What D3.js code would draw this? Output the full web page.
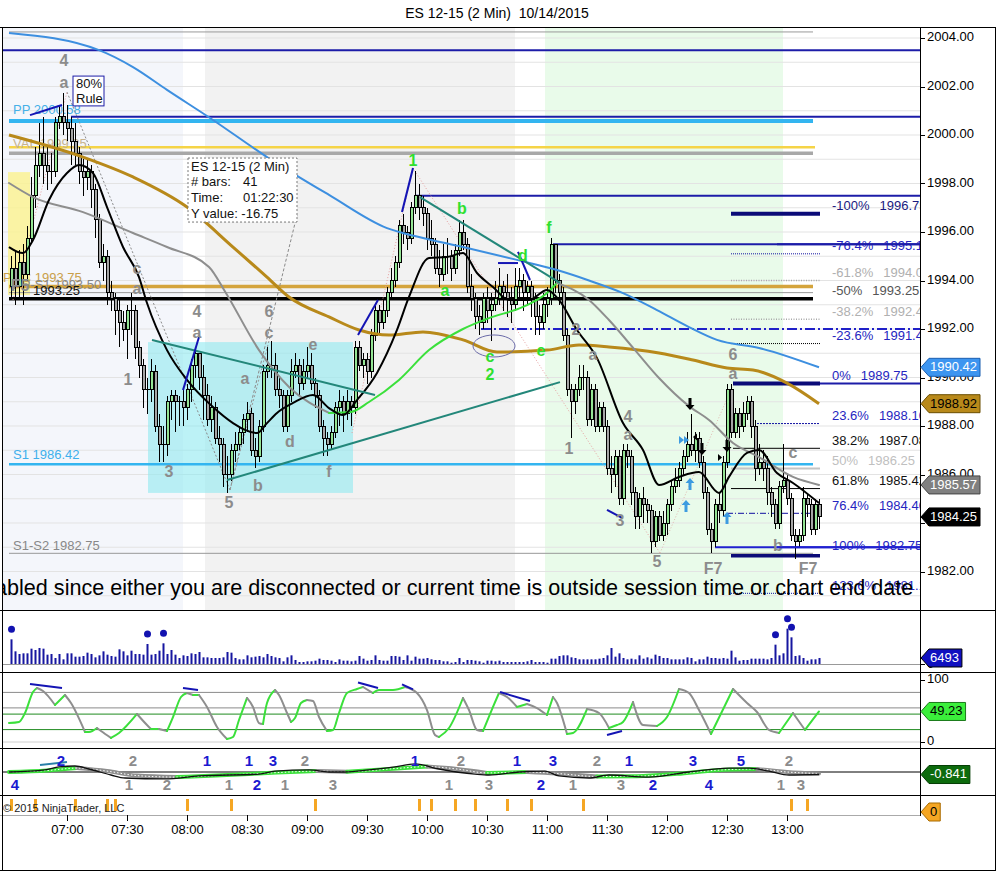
<!DOCTYPE html>
<html><head><meta charset="utf-8">
<script src="https://cdn.jsdelivr.net/npm/d3@7"></script>
<style>body{margin:0;background:#fff}svg{display:block;font-family:Arial,"Liberation Sans",sans-serif}.pre{white-space:pre}</style>
</head><body><svg id="c" width="996" height="871"></svg>
<script>
// ---------------- DATA ----------------
const title = "ES 12-15 (2 Min)  10/14/2015";
const barStart = "06:32";          // first 2-minute bar
const firstOpen = 1993.75;
const closes = [
1994.5,1993.75,1994.75,1994.25,1995.75,1997.5,1998.75,1999.25,1998.75,1998.5,
1998.5,2000.5,2000.75,2000.5,2000.25,1999.75,1999.25,1998.5,1998.25,1998.5,
1997.75,1996.5,1994.75,1995.0,1993.5,1993.25,1992.75,1992.25,1992.0,1992.75,
1992.75,1991.25,1990.5,1989.5,1989.5,1990.25,1988.0,1987.25,1987.25,1989.0,
1989.25,1989.0,1989.0,1988.75,1989.5,1990.5,1991.0,1990.0,1989.25,1988.25,
1988.75,1987.5,1987.25,1986.0,1986.0,1987.0,1987.25,1987.75,1988.25,1988.5,
1987.0,1986.75,1988.0,1990.25,1990.5,1990.5,1989.5,1989.25,1988.0,1989.25,
1990.25,1990.5,1989.75,1990.25,1990.5,1989.75,1989.25,1988.0,1987.5,1987.25,
1987.75,1988.75,1989.0,1988.5,1989.0,1988.75,1991.25,1990.5,1990.75,1990.25,
1991.75,1992.75,1992.25,1992.75,1993.5,1994.0,1994.75,1996.25,1996.0,1995.75,
1997.0,1997.5,1997.0,1996.75,1995.75,1995.5,1994.5,1994.25,1995.0,1995.0,
1994.5,1995.25,1996.0,1995.5,1993.75,1993.25,1992.5,1992.25,1993.25,1992.75,
1993.0,1993.25,1993.75,1993.5,1993.25,1993.0,1993.75,1994.0,1993.5,1993.75,
1993.25,1992.5,1992.25,1993.0,1993.25,1995.5,1994.0,1993.5,1991.75,1989.5,
1989.0,1989.5,1990.0,1990.0,1988.25,1989.5,1988.0,1988.75,1988.0,1986.25,
1986.0,1986.75,1985.0,1987.0,1986.75,1985.25,1984.25,1985.0,1984.75,1984.5,
1983.25,1984.25,1983.5,1984.0,1984.75,1985.5,1985.75,1986.25,1986.75,1987.25,
1987.0,1987.5,1986.5,1985.25,1983.75,1983.25,1984.75,1984.5,1986.5,1989.5,
1987.75,1988.5,1988.0,1988.5,1989.0,1988.0,1986.25,1986.5,1986.25,1985.25,
1984.75,1984.0,1985.5,1985.75,1985.0,1983.5,1983.25,1983.5,1985.0,1984.75,
1983.75,1984.75,1984.25];
const highs = [
1995,1995.25,1995.25,1995.5,1996.25,1998.25,1999.5,2000.5,2000.75,1999.5,
1999.25,2000.75,2001.25,2001.75,2001.25,2000.75,2000.5,1999.5,1999,1999,
1998.75,1998,1996.75,1995.5,1995.25,1994,1993.5,1993.25,1992.75,1993,
1993.5,1993,1991.5,1990.75,1990,1990.75,1990.5,1988.5,1988,1989.25,
1989.5,1989.5,1989.25,1989.5,1989.75,1990.75,1991.25,1991,1990.5,1989.75,
1989.25,1989,1988,1987.5,1986.75,1987.25,1987.75,1988,1988.5,1989,
1988.75,1987.5,1988.25,1990.5,1991.25,1991.5,1991,1990,1989.5,1989.5,
1990.75,1991,1990.75,1990.75,1991.25,1991,1990,1989.5,1988.25,1987.75,
1988,1989,1989.5,1989.25,1989.5,1989.25,1991.5,1991.5,1991,1991,
1992,1993,1993,1993.25,1993.75,1994.5,1995,1996.5,1996.75,1996.25,
1997.25,1998.5,1998,1997.5,1997,1996.5,1995.75,1995.25,1995.5,1995.75,
1995.25,1995.5,1996.5,1996.5,1995.75,1994.25,1993.5,1993,1993.5,1993.75,
1993.5,1994,1994.5,1994,1994.25,1993.75,1994.5,1994.5,1994.25,1994,
1994,1993.5,1993,1993.5,1993.75,1995.75,1995.5,1994.25,1993.75,1992,
1989.75,1989.75,1990.5,1990.5,1990.25,1989.75,1989.75,1989,1989,1988.25,
1986.75,1987,1987,1987.25,1987.25,1987,1985.5,1985.25,1985.5,1985,
1984.75,1984.5,1984.5,1984.5,1985,1985.75,1986.25,1986.5,1987,1987.75,
1988.5,1987.75,1987.75,1986.75,1985.5,1984,1985,1985.25,1986.75,1989.75,
1989.75,1988.75,1988.75,1989,1989.25,1989.25,1988.25,1987.25,1987,1986.75,
1985.5,1985,1985.75,1987.25,1986,1985.25,1983.75,1983.75,1985.5,1985.25,
1985,1985,1985];
const lows = [
1993.25,1993,1993.25,1993,1994,1995.5,1997,1998.25,1998,1997.75,
1998,1998.25,2000.25,2000,1999.75,1998.75,1998.75,1998,1997.5,1997.75,
1997,1995.75,1994.5,1994,1993,1992.75,1991.75,1991.25,1991.5,1990.75,
1991.75,1990.75,1990,1988.75,1988.5,1989,1987.75,1986.5,1986.5,1986.75,
1988.25,1987.75,1988,1988,1988.25,1989,1990,1989.5,1988.25,1988,
1987.75,1987.25,1986.5,1985.5,1985.25,1985.75,1986.5,1987,1987.25,1987.75,
1986.75,1986.25,1986.5,1987.75,1990,1990,1989.25,1988.75,1987.75,1987.75,
1989,1990,1989.25,1989.5,1990,1989.5,1988.75,1987.75,1986.75,1986.75,
1987,1987.5,1988,1987.75,1988.25,1988,1988.5,1990.25,1990,1989.75,
1990,1991.5,1991.75,1992,1992.5,1993.25,1993.75,1994.5,1995.5,1995.25,
1995.5,1996.75,1996.5,1996.25,1995.25,1995,1994.25,1993.75,1994,1994.25,
1994,1994.25,1995,1995.25,1993.5,1992.75,1992,1991.75,1992,1992.25,
1991.5,1992.75,1993,1992.75,1992.5,1992.25,1992.75,1993.25,1992.75,1993,
1992.5,1991.75,1991.75,1992,1992.5,1993,1993.5,1993,1991.5,1989.25,
1987.5,1988.5,1989.25,1989.5,1988,1988,1987.75,1987.75,1987.75,1986,
1985.25,1985.5,1984.75,1984.75,1986.25,1984.75,1983.75,1983.75,1984,1984,
1982.75,1983,1983.25,1983.25,1983.5,1984.5,1985.25,1985.5,1986,1986.5,
1986.75,1986.5,1986.25,1985,1983.5,1982.75,1983,1984,1984.25,1986.25,
1987.5,1987.5,1987.5,1987.75,1988.25,1987.5,1985.75,1986,1985.75,1984.75,
1984.25,1983.75,1983.75,1985.25,1984.75,1983.25,1982.5,1983,1983.25,1984.25,
1983.5,1983.5,1983.75];
const volumes = [
26640,13680,10800,11520,11520,16560,15120,17280,16560,10080,
10800,6480,10800,5040,11520,11520,7920,7920,8640,12240,
10800,7200,9360,13680,10080,8640,7920,15840,13680,9360,
14400,10800,10800,10080,21600,10080,10800,14400,22320,10800,
15120,10080,6480,9360,8640,11520,10800,12960,7200,7200,
6480,6480,6480,7200,12960,12240,6480,5040,5040,9360,
7200,7920,8640,7200,10800,8640,7200,6480,2880,7200,
9360,4320,2160,2160,2880,2880,3600,5760,4320,4320,
3600,2160,5040,3600,3600,2880,3600,8640,5760,3600,
4320,9360,4320,3600,3600,8640,8640,7920,4320,9360,
3600,7920,5760,5760,6480,5040,4320,4320,2880,2880,
1440,2160,6480,2160,4320,4320,3600,2880,1440,3600,
3600,2880,3600,2160,2160,2160,2160,2160,2160,2880,
4320,2160,2160,2160,1440,5760,5760,8640,9360,9360,
7200,6480,5040,5040,5040,5040,5040,5760,6480,9360,
17280,7920,11520,6480,5040,5760,5040,9360,5760,7200,
5760,10080,8640,6480,6480,5040,5040,5040,5040,7200,
6480,2880,5040,5040,7920,6480,6480,5760,6480,5760,
14400,7200,3600,4320,4320,5760,5760,5760,5760,5040,
6480,20880,9360,11520,38160,28800,8640,9360,6480,3600,
5040,5040,6493];
const volumeDotBars = [0,34,38,191,194,195];

// moving averages (time, price)
const maBlue = [["06:31",2004.21],["07:16",2003.5],["07:33",2002.8],["07:50",2001.86],["08:13",2000.62],["08:40",1999.09],["09:11",1997.53],["09:40",1996.16],["09:56",1995.79],["10:18",1995.38],["10:45",1994.85],["11:05",1994.43],["11:21",1994.0],["11:38",1993.48],["11:55",1992.78],["12:11",1992.08],["12:25",1991.55],["12:46",1991.22],["13:16",1990.42]];
const maBrown = [["06:31",2000.0],["07:08",1999.09],["07:33",1998.27],["08:00",1997.03],["08:23",1995.38],["08:40",1994.14],["08:51",1993.32],["09:11",1992.5],["09:26",1991.96],["09:41",1991.75],["09:58",1991.88],["10:18",1991.55],["10:35",1991.05],["11:00",1991.13],["11:16",1991.34],["11:31",1991.26],["11:56",1991.01],["12:13",1990.72],["12:30",1990.39],["12:43",1990.31],["13:00",1989.77],["13:16",1988.92]];
const maGray = [["06:31",1998.02],["06:43",1997.44],["07:08",1996.82],["07:33",1995.96],["07:50",1995.38],["08:11",1994.56],["08:19",1993.55],["08:36",1991.13],["08:51",1989.61],["09:11",1988.54],["09:22",1988.58],["09:31",1988.99],["09:46",1989.9],["10:01",1991.13],["10:18",1992.0],["10:31",1992.45],["10:48",1992.91],["11:00",1993.48],["11:05",1993.9],["11:21",1993.2],["11:31",1992.37],["11:44",1991.13],["11:56",1989.98],["12:11",1988.82],["12:21",1988.25],["12:33",1987.3],["12:46",1986.72],["13:03",1985.9],["13:16",1985.57]];
const maBlack = [["06:31",1995.38],["06:38",1995.13],["06:43",1995.67],["06:51",1997.32],["07:00",1998.43],["07:06",1998.76],["07:13",1998.43],["07:20",1997.03],["07:28",1995.38],["07:36",1994.14],["07:40",1993.07],["07:50",1991.13],["08:00",1989.9],["08:13",1988.78],["08:23",1988.12],["08:35",1987.71],["08:40",1988.12],["08:45",1988.54],["08:53",1988.95],["09:03",1989.28],["09:11",1988.74],["09:18",1988.45],["09:25",1989.07],["09:35",1990.19],["09:45",1991.96],["09:51",1993.32],["10:01",1994.93],["10:10",1994.97],["10:18",1995.13],["10:25",1994.31],["10:33",1993.73],["10:41",1993.2],["10:51",1993.2],["11:00",1993.61],["11:06",1993.2],["11:15",1991.96],["11:25",1990.8],["11:38",1988.12],["11:48",1987.01],["11:56",1985.57],["12:06",1985.9],["12:16",1986.1],["12:26",1985.24],["12:31",1985.9],["12:40",1986.89],["12:46",1987.01],["12:55",1986.06],["13:03",1985.65],["13:16",1984.82]];

// oscillator (0..100)
const osc = [["06:31",30.6],["06:36",32.3],["06:39",46.8],["06:43",80.6],["06:45",87.1],["06:48",82.3],["06:54",59.7],["06:55",62.9],["06:59",75.8],["07:02",62.9],["07:09",16.1],["07:11",16.1],["07:15",22.6],["07:17",17.7],["07:22",6.5],["07:26",14.5],["07:35",45.2],["07:40",27.4],["07:42",21.0],["07:46",21.0],["07:50",17.7],["07:53",40.3],["07:57",72.6],["08:00",79.0],["08:03",75.8],["08:06",75.8],["08:10",56.5],["08:15",24.2],["08:20",4.8],["08:23",8.1],["08:26",35.5],["08:30",71.0],["08:33",56.5],["08:36",30.6],["08:38",29.0],["08:40",62.9],["08:44",83.9],["08:46",75.8],["08:50",46.8],["08:52",32.3],["08:54",38.7],["08:57",62.9],["09:00",67.7],["09:03",66.1],["09:06",40.3],["09:10",17.7],["09:13",19.4],["09:16",46.8],["09:20",79.0],["09:25",85.5],["09:28",88.7],["09:33",79.0],["09:36",83.9],["09:43",83.9],["09:49",88.7],["09:55",79.0],["10:00",51.6],["10:04",11.3],["10:06",8.1],["10:11",22.6],["10:18",71.0],["10:21",51.6],["10:25",19.4],["10:28",17.7],["10:33",56.5],["10:36",79.0],["10:40",72.6],["10:45",56.5],["10:50",61.3],["10:55",54.8],["11:00",43.5],["11:03",72.6],["11:05",62.9],["11:10",12.9],["11:13",14.5],["11:20",53.2],["11:26",46.8],["11:31",22.6],["11:35",27.4],["11:38",32.3],["11:43",64.5],["11:48",27.4],["11:55",25.8],["12:00",40.3],["12:06",85.5],["12:11",79.0],["12:16",51.6],["12:22",12.9],["12:33",85.5],["12:40",62.9],["12:45",48.4],["12:51",19.4],["12:56",14.5],["13:03",46.8],["13:09",19.4],["13:16",49.23]];
const oscLevels = [80,55,45,20,0];

// MACD-style panel
const macd = [["06:31",0],["06:49",0.7],["06:56",1.7],["07:04",2.0],["07:11",1.0],["07:22",-1.0],["07:29",-2.0],["07:49",-2.3],["08:06",-1.3],["08:36",-0.7],["08:44",0.3],["09:01",0.7],["09:11",0],["09:19",0],["09:31",0.7],["09:44",1.7],["09:54",2.7],["10:06",1.0],["10:24",-0.7],["10:31",-1.0],["10:46",0],["10:59",0.3],["11:06",-1.3],["11:21",-2.0],["11:31",-1.0],["11:51",-1.7],["12:11",0],["12:31",1.3],["12:41",1.3],["12:51",0.3],["13:01",-1.0],["13:16",-0.841]];
const signal = [["06:31",0],["06:50",0.5],["07:05",1.3],["07:20",0.3],["07:35",-1.2],["07:55",-1.7],["08:20",-1.0],["08:45",-0.2],["09:05",0.3],["09:20",0.1],["09:45",1.2],["10:00",1.8],["10:15",1.0],["10:30",-0.3],["10:50",0],["11:05",-0.5],["11:25",-1.5],["11:45",-1.4],["12:05",-0.6],["12:25",0.6],["12:45",1.0],["13:00",0.0],["13:16",-0.5]];
const macdLabels = [["06:34","b","4",1],["06:57","t","2",1],["07:33","t","2",0],["07:31","b","1",0],["07:50","b","2",0],["08:10","t","1",1],["08:21","b","1",0],["08:31","t","1",1],["08:35","b","2",1],["08:43","t","3",1],["08:49","b","1",0],["08:59","t","2",0],["09:13","b","3",0],["09:54","t","1",1],["10:11","b","1",0],["10:17","t","2",0],["10:31","b","3",0],["10:45","t","1",1],["11:03","t","3",1],["10:57","b","2",1],["11:13","b","1",0],["11:25","t","2",0],["11:41","t","1",1],["11:37","b","3",0],["11:53","b","2",1],["12:13","t","3",1],["12:21","b","4",1],["12:37","t","5",1],["13:01","t","2",0],["12:57","b","1",0],["13:07","b","3",0]];

// orange event markers
const markerTimes = ["06:32","06:44","07:04","07:20","07:24","08:00","08:22","09:04","09:56","10:02","10:14","10:24","10:40","10:52","11:18","13:02","13:10"];

const timeTicks = ["07:00","07:30","08:00","08:30","09:00","09:30","10:00","10:30","11:00","11:30","12:00","12:30","13:00"];
const priceTicks = [2004,2002,2000,1998,1996,1994,1992,1990,1988,1986,1984,1982];

// fib retracement labels
const fibPct = ["-100%","-76.4%","-61.8%","-50%","-38.2%","-23.6%","0%","23.6%","38.2%","50%","61.8%","76.4%","100%","123.6%"];
const fibVal = [1996.75,1995.10,1994.00,1993.25,1992.40,1991.40,1989.75,1988.10,1987.08,1986.25,1985.42,1984.40,1982.75,1981.10];

// ---------------- SETUP ----------------
const svg = d3.select('#c');
const base = new Date(2015,9,14).getTime();
const T = s => { const [h,m] = s.split(':').map(Number); return new Date(base + (h*60+m)*60000); };
const X0 = 3, X1 = 920;
const x = d3.scaleTime().domain([T('07:00'), T('13:00')]).range([67, 787]);
const y = d3.scaleLinear().domain([1982, 2004]).range([571.5, 38]);
const yV = d3.scaleLinear().domain([0, 54000]).range([664, 614]);
const yO = d3.scaleLinear().domain([0, 100]).range([742, 680]);
const yM = d3.scaleLinear().domain([-5, 5]).range([787, 757]);

const bars = closes.map((c,i) => ({
  t: new Date(T(barStart).getTime() + i*120000),
  o: i ? closes[i-1] : firstOpen, h: highs[i], l: lows[i], c, v: volumes[i]
}));

const defs = svg.append('defs');
function clip(id, x0, y0, w, h){ defs.append('clipPath').attr('id', id).append('rect').attr('x',x0).attr('y',y0).attr('width',w).attr('height',h); }
clip('cMain', X0, 28, X1-X0, 582);
clip('cVol', X0, 611, X1-X0, 60);
clip('cOsc', X0, 673, X1-X0, 74);
clip('cMacd', X0, 749, X1-X0, 45);

// title
svg.append('text').attr('class','pre').attr('x', 497).attr('y', 18).attr('text-anchor','middle').attr('font-size',14).attr('fill','#000').text(title);

// ---------------- MAIN PANEL ----------------
const gm = svg.append('g').attr('clip-path','url(#cMain)');
[["06:20","07:58","#f4f6fb"],["08:09","10:44","#f2f2f2"],["10:59","12:58","#e9fbea"]].forEach(s=>{
  gm.append('rect').attr('x', x(T(s[0]))).attr('y',28).attr('width', x(T(s[1]))-x(T(s[0]))).attr('height',582).attr('fill',s[2]);
});
d3.range(1979, 2005).forEach(p => gm.append('line').attr('x1',X0).attr('x2',X1).attr('y1',y(p)).attr('y2',y(p)).attr('stroke','#e3e3e3').attr('stroke-width',1));

function box(t0,t1,p0,p1,fill,op){ gm.append('rect').attr('x',x(T(t0))).attr('width',x(T(t1))-x(T(t0))).attr('y',y(p0)).attr('height',y(p1)-y(p0)).attr('fill',fill).attr('opacity',op); }
box("06:30.5","06:41.5",1998.47,1993.4,'#fbf28e',0.8);
box("07:40.5","09:23",1991.46,1985.24,'#8fe9f0',0.6);

function level(p, t0, t1, c, w, dash){
  const xa = t0 ? x(T(t0)) : X0, xb = t1 ? x(T(t1)) : X1;
  const l = gm.append('line').attr('x1',xa).attr('x2',xb).attr('y1',y(p)).attr('y2',y(p)).attr('stroke',c).attr('stroke-width',w);
  if (dash) l.attr('stroke-dasharray', dash);
}
level(2004.25,"06:31","13:13",'#9a9a9a',1);
level(2003.5,null,null,'#1c1ca8',2);
level(2000.75,"07:02",null,'#1c1ca8',2);
level(2000.58,"06:31","13:13",'#33b5f0',4);
level(1999.5,"06:31","13:14",'#f5d447',2.5);
level(1999.25,"06:31","13:13",'#a8a8a8',3.5);
level(1997.5,"09:54",null,'#1c1ca8',2);
level(1995.5,"11:03",null,'#1c1ca8',2);
level(1993.75,"06:31","13:13",'#d4a43c',3.5);
level(1993.5,"06:31","13:13",'#999',1);
level(1993.25,"06:31","13:13",'#000',3.5);
level(1992.0,"10:27",null,'#2020c8',2,'10,3,2,3');
level(1986.42,"06:31","13:13",'#33b5f0',2.5);
level(1982.75,"06:31","13:13",'#999',1);
level(1989.75,"12:33",null,'#1c1ca8',2);
level(1983.0,"12:24",null,'#2020d0',2);

function fibSeg(p,t0,c,w,dash){ level(p,t0,"13:16.5",c,w,dash); }
fibSeg(1996.75,"12:32",'#0b0b78',4);
fibSeg(1995.10,"12:32",'#1010a0',1,'1,1');
fibSeg(1994.00,"12:32",'#aaa',1.5,'1,1.5');
fibSeg(1992.40,"12:32",'#aaa',1.5,'1,1.5');
fibSeg(1991.40,"12:32",'#000',1,'1,1');
fibSeg(1989.75,"12:33",'#0b0b78',4);
fibSeg(1988.10,"12:45",'#1010a0',1,'2,1');
fibSeg(1987.08,"12:33",'#000',1);
fibSeg(1986.25,"12:32",'#c4c4c4',2);
fibSeg(1985.42,"12:32",'#000',1);
fibSeg(1984.40,"12:30",'#1010a0',1,'6,2,1,2');
fibSeg(1982.65,"12:32",'#0b0b78',3.5);
fibSeg(1981.10,"12:32",'#1010a0',1,'1,1');

function txt(g, xp, yp, s, c, size, opts={}){
  const t = g.append('text').attr('x',xp).attr('y',yp).attr('fill',c).attr('font-size',size).attr('dominant-baseline','middle').text(s);
  if (opts.anchor) t.attr('text-anchor',opts.anchor);
  if (opts.bold) t.attr('font-weight','bold');
  return t;
}
txt(gm, 13, y(2000.58)-10, "PP 2000.58", '#45b0e8', 13);
txt(gm, 13, y(1999.25)-9, "VAL 1999.25", '#c7b38e', 13);
txt(gm, 3, y(1993.75)-8, "POC 1993.75", '#c9a04a', 13);
txt(gm, 13, y(1993.5)-7, "PP-S1 1993.50", '#888', 13);
txt(gm, 33, y(1993.25)-7, "1993.25", '#111', 13);
txt(gm, 13, y(1986.42)-9, "S1 1986.42", '#3fb0ec', 13);
txt(gm, 13, y(1982.75)-7, "S1-S2 1982.75", '#888', 13);

function seg(t0,p0,t1,p1,c,w,dash){ gm.append('line').attr('x1',x(T(t0))).attr('y1',y(p0)).attr('x2',x(T(t1))).attr('y2',y(p1)).attr('stroke',c).attr('stroke-width',w).attr('stroke-dasharray',dash||null); }
seg("07:00",2001.77,"08:21.5",1985.36,'#8a8a8a',1,'2,2');
seg("08:55",1996.70,"08:21.5",1985.36,'#8a8a8a',1,'3,2');
seg("08:21.5",1985.36,"08:41.5",1991.67,'#9a9a9a',1,'2,2');
seg("09:22.5",1987.71,"09:53",1998.64,'#e6a0a0',1,'1,2');
seg("09:53",1998.64,"11:56.5",1982.76,'#e6a0a0',1,'1,2');
seg("11:56.5",1982.76,"12:33",1989.69,'#e0b8b0',1,'1,2');
seg("06:33",1993.2,"07:00",2001.77,'#e6a0a0',1,'1,2');

// candles
const gc = gm.append('g').attr('shape-rendering','crispEdges');
bars.forEach(b => {
  const cx = Math.round(x(b.t));
  gc.append('line').attr('x1',cx+0.5).attr('x2',cx+0.5).attr('y1',y(b.h)).attr('y2',y(b.l)).attr('stroke','#000').attr('stroke-width',1);
  const top = y(Math.max(b.o,b.c)), bot = y(Math.min(b.o,b.c));
  if (b.o === b.c) {
    gc.append('line').attr('x1',cx-1.5).attr('x2',cx+2.5).attr('y1',top).attr('y2',top).attr('stroke','#000');
  } else {
    gc.append('rect').attr('x',cx-1).attr('y',top).attr('width',3).attr('height',Math.max(1,bot-top))
      .attr('fill', b.c > b.o ? '#94e494' : '#a6a6a6').attr('stroke','#000').attr('stroke-width',1);
  }
});

const lineP = (sc) => d3.line().x(d=>x(T(d[0]))).y(d=>sc(d[1])).curve(d3.curveMonotoneX);
function colored(g, pts, sc, up, dn, w){
  const runs=[]; let cur=null;
  for (let i=0;i<pts.length-1;i++){
    const c = pts[i+1][1] >= pts[i][1] ? up : dn;
    if (!cur || cur.c!==c){ cur={c, p:[pts[i]]}; runs.push(cur); }
    cur.p.push(pts[i+1]);
  }
  runs.forEach(r => g.append('path').attr('d', lineP(sc)(r.p)).attr('fill','none').attr('stroke',r.c).attr('stroke-width',w).attr('stroke-linecap','round'));
}
gm.append('path').attr('d',lineP(y)(maBlue)).attr('fill','none').attr('stroke','#3d8fe0').attr('stroke-width',2);
gm.append('path').attr('d',lineP(y)(maBrown)).attr('fill','none').attr('stroke','#b8891a').attr('stroke-width',3);
colored(gm, maGray, y, '#3be03b', '#8e8e8e', 2);
gm.append('path').attr('d',lineP(y)(maBlack)).attr('fill','none').attr('stroke','#000').attr('stroke-width',2);

seg("07:42.5",1991.55,"09:34",1989.28,'#23877a',2);
seg("08:20",1985.77,"11:06.5",1989.81,'#23877a',2);
seg("09:56.5",1997.44,"11:06.5",1993.9,'#23877a',2);
[["06:41.5",2000.82,"06:57.5",2001.24],["07:58",1989.48,"08:06",1991.67],["09:25.5",1991.75,"09:35.5",1993.2],
 ["09:47.5",1996.82,"09:53",1998.64],["10:35.5",1994.72,"10:45.5",1994.72],["10:45.5",1995.18,"10:51.5",1994.02],["11:30",1984.54,"11:37.5",1984.21]]
 .forEach(s => seg(s[0],s[1],s[2],s[3],'#1414b4',2));

gm.append('ellipse').attr('cx',x(T("10:33.5"))).attr('cy',y(1991.3)).attr('rx',21).attr('ry',11).attr('fill','none').attr('stroke','#6a6aa8').attr('stroke-width',1);

const G = '#8c8c8c', GR = '#2fe02f';
const waveLabels = [
 ["06:58.5",2003.01,"4",G],["06:58.5",2002.10,"a",G],["06:36.5",1993.73,"F5",G],["07:35",1994.43,"c",G],["07:35",1993.61,"a",G],
 ["07:30.5",1989.86,"1",G],["07:51",1986.06,"3",G],["08:05",1992.66,"4",G],["08:05",1991.79,"a",G],["08:21",1984.78,"5",G],
 ["08:41",1992.66,"6",G],["08:41",1991.79,"c",G],["08:29",1989.9,"a",G],["08:35.5",1985.48,"b",G],["08:51.5",1987.3,"d",G],
 ["09:03",1991.3,"e",G],["09:11",1986.06,"f",G],
 ["11:14.5",1991.92,"2",G],["11:23",1990.89,"a",G],["11:11",1987.01,"1",G],["11:40.5",1988.33,"4",G],["11:40.5",1987.59,"a",G],
 ["11:36.5",1984.04,"3",G],["11:55",1982.35,"5",G],["12:33",1990.89,"6",G],["12:33",1990.1,"a",G],["13:03",1986.85,"c",G],
 ["12:55.5",1983.01,"b",G],["12:23",1982.06,"F7",G],["13:10.5",1982.06,"F7",G],
 ["09:53",1998.89,"1",GR],["10:17.5",1996.91,"b",GR],["10:09",1993.53,"a",GR],["11:01",1996.12,"f",GR],["10:31.5",1990.8,"c",GR],
 ["10:31.5",1990.06,"2",GR],["10:57",1991.05,"e",GR],["10:48",1994.97,"d",GR]];
waveLabels.forEach(w => txt(gm, x(T(w[0])), y(w[1]), w[2], w[3], 16, {anchor:'middle', bold:true}));

function arrow(t, p, dir, color){
  const px = x(T(t)), py = y(p);
  const d = dir === 'down' ? "M-1.5,-12 L1.5,-12 L1.5,-5 L4.5,-5 L0,0 L-4.5,-5 L-1.5,-5 Z" : "M-1.5,12 L1.5,12 L1.5,5 L4.5,5 L0,0 L-4.5,5 L-1.5,5 Z";
  gm.append('path').attr('d',d).attr('transform',`translate(${px},${py})`).attr('fill',color);
}
arrow("12:11.5",1988.66,'down','#000'); arrow("12:17.5",1986.8,'down','#000'); arrow("12:30",1986.93,'down','#000');
arrow("12:11.5",1985.86,'up','#3d9be0'); arrow("12:09.5",1984.95,'up','#3d9be0'); arrow("12:30",1984.45,'up','#3d9be0');
gm.append('path').attr('d','M0,-4 L5,0 L0,4 Z M5,-4 L10,0 L5,4 Z').attr('transform',`translate(${x(T("12:06"))},${y(1987.42)})`).attr('fill','#3d9be0');
gm.append('path').attr('d','M4,-3.5 L0,0 L4,3.5 Z').attr('transform',`translate(${x(T("12:13"))},${y(1987.55)})`).attr('fill','#000');
gm.append('path').attr('d','M0,-3.5 L4,0 L0,3.5 Z').attr('transform',`translate(${x(T("12:25.5"))},${y(1986.7)})`).attr('fill','#000');

const rb = gm.append('g');
rb.append('rect').attr('x',x(T("07:03"))).attr('y',y(2002.43)).attr('width',x(T("07:18.5"))-x(T("07:03"))).attr('height',y(2001.2)-y(2002.43)).attr('fill','#fff').attr('stroke','#1c1ca8');
txt(rb, x(T("07:04.5")), y(2002.43)+8, "80%", '#111', 13);
txt(rb, x(T("07:04.5")), y(2002.43)+23, "Rule", '#111', 13);

const ib = gm.append('g');
const bx0 = x(T("08:00.5")), by0 = y(1999.05);
ib.append('rect').attr('x',bx0).attr('y',by0).attr('width',x(T("08:55"))-bx0).attr('height',y(1996.41)-by0).attr('fill','#fff').attr('stroke','#777').attr('stroke-dasharray','2,2');
txt(ib, bx0+3, by0+10, "ES 12-15 (2 Min)", '#111', 13);
txt(ib, bx0+3, by0+25, "# bars:", '#111', 13); txt(ib, bx0+55, by0+25, "41", '#111', 13);
txt(ib, bx0+3, by0+41, "Time:", '#111', 13); txt(ib, bx0+55, by0+41, "01:22:30", '#111', 13);
txt(ib, bx0+3, by0+57, "Y value: -16.75", '#111', 13);

const fibColor = ['#1a1a80','#2525c0','#b0b0b0','#555','#b0b0b0','#2525c0','#2525c0','#2525c0','#111','#c0c0c0','#111','#2525c0','#2525c0','#2525c0'];
fibPct.forEach((s,i) => {
  const yy = y(fibVal[i]) - 7;
  const t = txt(gm, 832, yy, s, fibColor[i], 13);
  const w = t.node().getComputedTextLength();
  txt(gm, 832 + w + 10, yy, fibVal[i].toFixed(2), fibColor[i], 13);
});
level(1995.5,"12:55",null,'#1c1ca8',2);
level(1983.0,"12:55",null,'#2020d0',2);

// message (clipped by the panel on the left, as in the original)
gm.append('text').attr('x',-5).attr('y',595).attr('font-size',21.6).attr('fill','#000').text("abled since either you are disconnected or current time is outside session time or chart end date");

// ---------------- VOLUME ----------------
const gv = svg.append('g').attr('clip-path','url(#cVol)');
gv.append('line').attr('x1',X0).attr('x2',X1).attr('y1',664.5).attr('y2',664.5).attr('stroke','#999');
bars.forEach(b => gv.append('rect').attr('x',Math.round(x(b.t))-0.5).attr('y',yV(b.v)).attr('width',2).attr('height',yV(0)-yV(b.v)).attr('fill','#1616a0'));
volumeDotBars.forEach(i => gv.append('circle').attr('cx',x(bars[i].t)+0.5).attr('cy',yV(bars[i].v)-10).attr('r',3.5).attr('fill','#1212b0'));

// ---------------- OSCILLATOR ----------------
const go = svg.append('g').attr('clip-path','url(#cOsc)');
const oscCol = {80:'#8a8a8a',55:'#8a8a8a',45:'#1f8a1f',20:'#1f8a1f',0:'#d0d0d0'};
oscLevels.forEach(v => go.append('line').attr('x1',X0).attr('x2',X1).attr('y1',yO(v)).attr('y2',yO(v)).attr('stroke',oscCol[v]).attr('stroke-width',1));
colored(go, osc, yO, '#3be03b', '#8e8e8e', 2);
[["06:41.5",93.5,"06:57.5",87.1],["07:58",87,"08:05.5",83.9],["09:25.5",96,"09:35.5",87],["09:47.5",93,"09:53",85],["10:36.5",80.6,"10:51.5",66.1],["11:30",11.3,"11:37.5",17.7]]
 .forEach(s => go.append('line').attr('x1',x(T(s[0]))).attr('y1',yO(s[1])).attr('x2',x(T(s[2]))).attr('y2',yO(s[3])).attr('stroke','#1414b4').attr('stroke-width',2));

// ---------------- MACD ----------------
const gd = svg.append('g').attr('clip-path','url(#cMacd)');
gd.append('line').attr('x1',X0).attr('x2',X1).attr('y1',yM(0)).attr('y2',yM(0)).attr('stroke','#000').attr('stroke-width',1);
colored(gd, signal, yM, '#3be03b', '#8e8e8e', 4);
gd.append('path').attr('d',lineP(yM)(signal)).attr('fill','none').attr('stroke','#fff').attr('stroke-width',1).attr('stroke-dasharray','1.5,2');
gd.append('path').attr('d',lineP(yM)(macd)).attr('fill','none').attr('stroke','#111').attr('stroke-width',1.3);
gd.append('line').attr('x1',x(T("06:46.5"))).attr('y1',yM(2.3)).attr('x2',x(T("07:00"))).attr('y2',yM(3.3)).attr('stroke','#2a80a8').attr('stroke-width',2);
macdLabels.forEach(l => txt(gd, x(T(l[0])), l[1]==='t' ? 762 : 786, l[2], l[3] ? '#1a1ad0' : '#8c8c8c', 15, {anchor:'middle', bold:true}));

// ---------------- MARKERS ----------------
markerTimes.forEach(t => svg.append('rect').attr('x',Math.round(x(T(t)))-1).attr('y',799).attr('width',3).attr('height',12).attr('fill','#f5a623'));
svg.append('text').attr('x',3).attr('y',812).attr('font-size',11).attr('fill','#222').text("\u00a9 2015 NinjaTrader, LLC");

// ---------------- FRAME & AXES ----------------
const fr = svg.append('g').attr('stroke','#000').attr('stroke-width',1).attr('shape-rendering','crispEdges');
[27,610,672,748,795].forEach(v => fr.append('line').attr('x1',0).attr('x2',996).attr('y1',v+0.5).attr('y2',v+0.5));
fr.append('line').attr('x1',0).attr('x2',X1).attr('y1',815.5).attr('y2',815.5).attr('stroke','#aaa');
fr.append('line').attr('x1',2.5).attr('x2',2.5).attr('y1',27).attr('y2',870);
fr.append('line').attr('x1',X1+0.5).attr('x2',X1+0.5).attr('y1',27).attr('y2',816);
fr.append('line').attr('x1',995.5).attr('x2',995.5).attr('y1',27).attr('y2',870);
fr.append('line').attr('x1',0).attr('x2',996).attr('y1',870.5).attr('y2',870.5);

priceTicks.forEach(p => {
  fr.append('line').attr('x1',X1).attr('x2',X1+5).attr('y1',Math.round(y(p))+0.5).attr('y2',Math.round(y(p))+0.5);
  txt(svg, 927, y(p), p.toFixed(2), '#000', 13);
});
[100,0].forEach(v => { fr.append('line').attr('x1',X1).attr('x2',X1+5).attr('y1',Math.round(yO(v))+0.5).attr('y2',Math.round(yO(v))+0.5); txt(svg, 927, yO(v), String(v), '#000', 13); });
fr.append('line').attr('x1',X1).attr('x2',X1+5).attr('y1',664.5).attr('y2',664.5);
txt(svg, 927, 665, "0", '#000', 13);
timeTicks.forEach(t => {
  const tx = Math.round(x(T(t)))+0.5;
  fr.append('line').attr('x1',tx).attr('x2',tx).attr('y1',815).attr('y2',821);
  svg.append('text').attr('x',tx).attr('y',834).attr('text-anchor','middle').attr('font-size',13).attr('fill','#000').text(t);
});

function flag(yc, s, fill, tc, stroke){
  const g = svg.append('g');
  const path = g.append('path').attr('fill',fill).attr('stroke',stroke||'#000').attr('stroke-width',1);
  const t = txt(g, 930, yc+0.5, s, tc, 13);
  const w = t.node().getComputedTextLength() + 6;
  path.attr('d', `M921,${yc} L929,${yc-9} L${927+w},${yc-9} L${927+w},${yc+9} L929,${yc+9} Z`);
}
flag(y(1990.42), "1990.42", '#3d95f0', '#fff', '#1b5fb0');
flag(y(1988.92), "1988.92", '#b8891a', '#000', '#6b4e00');
flag(y(1985.57), "1985.57", '#808080', '#fff', '#444');
flag(y(closes[closes.length-1]), closes[closes.length-1].toFixed(2), '#000', '#fff', '#000');
flag(yV(volumes[volumes.length-1]), String(volumes[volumes.length-1]), '#1010c0', '#fff', '#000');
flag(yO(49.23), "49.23", '#3bef3b', '#000', '#1a7a1a');
flag(yM(-0.841), "-0.841", '#0d6b0d', '#fff', '#053d05');
flag(812, "0", '#f5a623', '#000', '#a86a00');
</script></body></html>
